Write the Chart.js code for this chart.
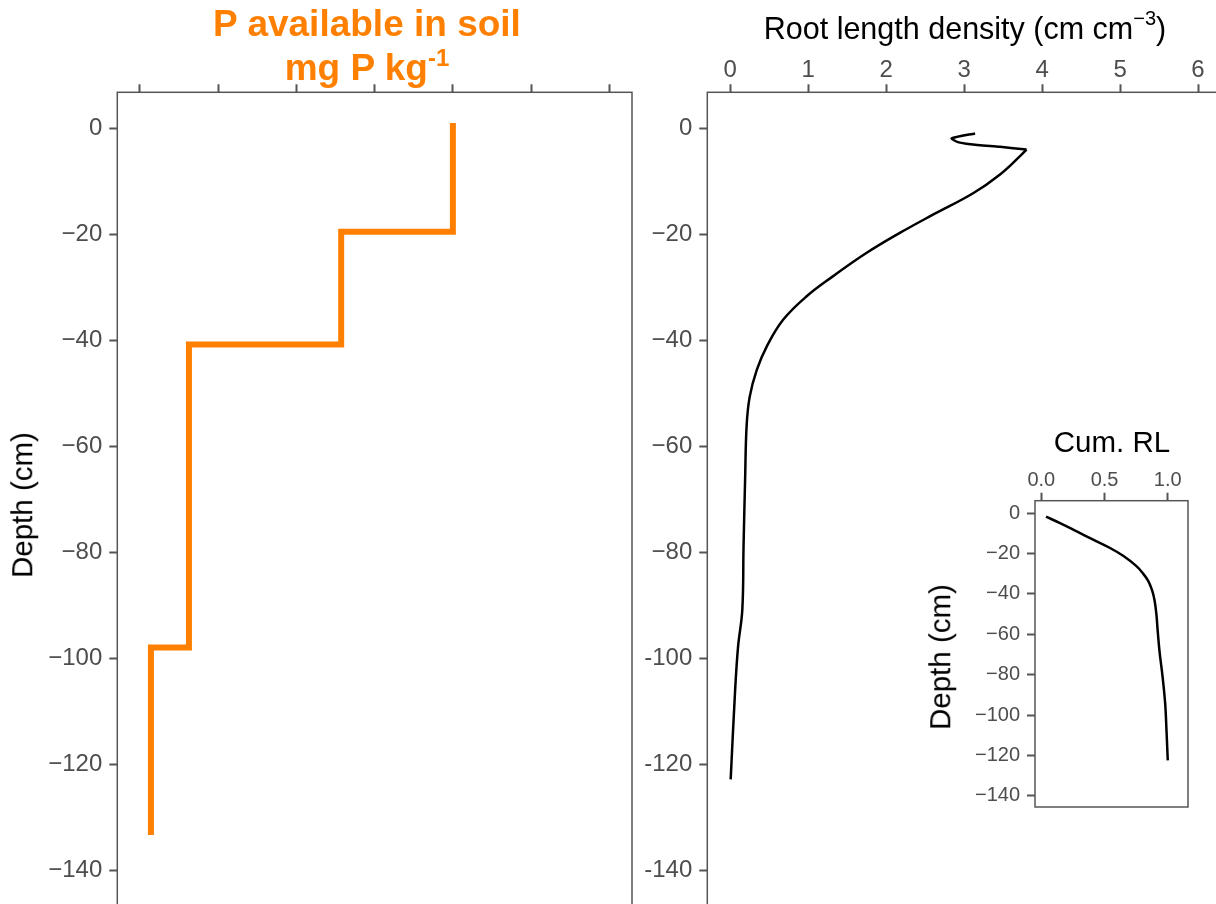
<!DOCTYPE html>
<html>
<head>
<meta charset="utf-8">
<script src="https://cdn.jsdelivr.net/npm/chart.js@4.4.1/dist/chart.umd.min.js"></script>
<style>
  html, body { margin: 0; padding: 0; background: #fff; }
  body { width: 1216px; height: 904px; overflow: hidden; position: relative; font-family: "Liberation Sans", Arial, sans-serif; }
  canvas { position: absolute; }
  .t { position: absolute; white-space: nowrap; line-height: 1; }
  .rot { transform: translate(-50%, -50%) rotate(-90deg); }
</style>
</head>
<body>
<canvas id="pChart" width="640" height="924" style="left:0;top:0"></canvas>
<canvas id="rldChart" width="600" height="924" style="left:640px;top:0"></canvas>
<canvas id="cumChart" width="320" height="410" style="left:900px;top:400px"></canvas>

<div class="t" style="left:167px;top:5px;width:400px;text-align:center;font-weight:bold;font-size:37px;color:#ff8000">P available in soil</div>
<div class="t" style="left:167px;top:49px;width:400px;text-align:center;font-weight:bold;font-size:37px;color:#ff8000">mg P kg<span style="font-size:24px;position:relative;top:-14px">-1</span></div>
<div class="t rot" style="left:22px;top:505px;font-size:29.5px;color:#000">Depth (cm)</div>

<div class="t" style="left:665px;top:13px;width:600px;text-align:center;font-size:30.5px;color:#000">Root length density (cm cm<span style="font-size:20px;position:relative;top:-14px">&minus;3</span>)</div>

<div class="t" style="left:1012px;top:427px;width:200px;text-align:center;font-size:29.5px;color:#000">Cum. RL</div>
<div class="t rot" style="left:940px;top:657px;font-size:29.5px;color:#000">Depth (cm)</div>

<script>
// P available in soil (step profile)
const pAvail = [20, 20, 12.86, 12.86, 3.13, 3.13, 0.70, 0.70];
const pDepth = [1, -19.5, -19.5, -40.8, -40.8, -98, -98, -133.4];
const pTicks = [0, 5, 10, 15, 20, 25, 30];

// root length density: top zig-zag, then the smooth profile
const rldTop = [3.14, 2.84, 2.92, 3.08, 3.46, 3.80];
const rldTopDepth = [-0.96, -1.9, -2.6, -3.0, -3.5, -4.0];
const rld = [3.80, 3.72, 3.46, 3.12, 2.60, 2.18, 1.75, 1.32, 0.98, 0.68, 0.47, 0.34, 0.25,
  0.21, 0.19, 0.17, 0.154, 0.10, 0.06, 0.005];
const rldDepth = [-4.0, -5.2, -8.7, -12.2, -16.3, -19.7, -23.5, -27.9, -31.7, -36.1, -41.1, -45.6, -50.6,
  -56, -66.3, -78.9, -90.9, -97.8, -106.6, -122.9];
const rldTicks = [0, 1, 2, 3, 4, 5, 6];

// cumulative root length (inset)
const cumRL = [0.037, 0.148, 0.28, 0.41, 0.54, 0.65, 0.75, 0.80, 0.845, 0.875, 0.895, 0.91, 0.92, 0.935, 0.96, 0.98, 0.99, 1.0];
const cumDepth = [-1.7, -4.9, -9.0, -13.1, -17.1, -21.2, -26.1, -29.5, -33.5, -38, -43, -50, -58, -68.5, -81.6, -94.7, -107.7, -122.4];
const cumTicks = [0, 0.5, 1];
const cumTickLabels = ['0.0', '0.5', '1.0'];

const depthTicks = [0, -20, -40, -60, -80, -100, -120, -140];
const depthLabels = ['0', '\u221220', '\u221240', '\u221260', '\u221280', '\u2212100', '\u2212120', '\u2212140'];
const depthLabelsRld = ['0', '\u221220', '\u221240', '\u221260', '\u221280', '-100', '-120', '-140'];

const FONT = '"Liberation Sans", Arial, sans-serif';
const GREY = '#4d4d4d';

const boxPlugin = {
  id: 'box',
  afterDraw(chart) {
    const a = chart.chartArea, ctx = chart.ctx;
    ctx.save();
    ctx.strokeStyle = '#555';
    ctx.lineWidth = 1.5;
    ctx.strokeRect(a.left, a.top, a.right - a.left, a.bottom - a.top);
    ctx.restore();
  }
};

function pts(xs, ys) {
  return xs.map((x, i) => ({ x: x, y: ys[i] }));
}

function axes(o) {
  const grid = { display: true, drawOnChartArea: false, drawTicks: true, tickLength: 8, tickColor: '#555', tickWidth: 2 };
  return {
    x: {
      type: 'linear', position: 'top', min: o.xMin, max: o.xMax,
      border: { display: false }, grid: grid,
      afterBuildTicks: s => { s.ticks = o.xTicks.map(v => ({ value: v })); },
      afterFit: s => { s.height = o.xH; s.paddingLeft = 0; s.paddingRight = 0; },
      ticks: {
        autoSkip: false, maxRotation: 0, padding: 0, color: GREY,
        font: { family: FONT, size: o.fs },
        callback: (v, i) => o.xLabels ? o.xLabels[i] : ''
      }
    },
    y: {
      type: 'linear', min: o.yMin, max: o.yMax,
      border: { display: false }, grid: grid,
      afterBuildTicks: s => { s.ticks = depthTicks.map(v => ({ value: v })); },
      afterFit: s => { s.width = o.yW; s.paddingTop = 0; s.paddingBottom = 0; },
      ticks: {
        autoSkip: false, padding: 7, color: GREY,
        font: { family: FONT, size: o.fs },
        callback: (v, i) => o.yLabels[i]
      }
    }
  };
}

const baseOpts = {
  responsive: false,
  animation: false,
  plugins: { legend: { display: false }, tooltip: { enabled: false } }
};

new Chart(document.getElementById('pChart'), {
  type: 'scatter',
  data: { datasets: [{
    data: pts(pAvail, pDepth), showLine: true, borderColor: '#ff8000', borderWidth: 6,
    borderJoinStyle: 'miter', borderCapStyle: 'butt', pointRadius: 0, tension: 0
  }] },
  options: Object.assign({}, baseOpts, {
    layout: { padding: { left: 0, top: 0, right: 8, bottom: 1 } },
    scales: axes({ xMin: -1.45, xMax: 31.45, xTicks: pTicks, xLabels: null,
      yMin: -150, yMax: 6.8, yLabels: depthLabels, yW: 117.3, xH: 92.3, fs: 24 })
  }),
  plugins: [boxPlugin]
});

new Chart(document.getElementById('rldChart'), {
  type: 'scatter',
  data: { datasets: [{
    data: pts(rldTop, rldTopDepth), showLine: true, borderColor: '#000', borderWidth: 2.5,
    pointRadius: 0, tension: 0.2
  }, {
    data: pts(rld, rldDepth), showLine: true, borderColor: '#000', borderWidth: 2.5,
    pointRadius: 0, tension: 0.4
  }] },
  options: Object.assign({}, baseOpts, {
    layout: { padding: { left: 0, top: 0, right: 18.6, bottom: 1 } },
    scales: axes({ xMin: -0.295, xMax: 6.3, xTicks: rldTicks, xLabels: rldTicks.map(String),
      yMin: -150, yMax: 6.8, yLabels: depthLabelsRld, yW: 67.3, xH: 92.3, fs: 24 })
  }),
  plugins: [boxPlugin]
});

new Chart(document.getElementById('cumChart'), {
  type: 'scatter',
  data: { datasets: [{
    data: pts(cumRL, cumDepth), showLine: true, borderColor: '#000', borderWidth: 2.5,
    pointRadius: 0, tension: 0.4
  }] },
  options: Object.assign({}, baseOpts, {
    layout: { padding: { left: 0, top: 0, right: 32, bottom: 3 } },
    scales: axes({ xMin: -0.05, xMax: 1.16, xTicks: cumTicks, xLabels: cumTickLabels,
      yMin: -145.5, yMax: 6.2, yLabels: depthLabels, yW: 135, xH: 100.7, fs: 20 })
  }),
  plugins: [boxPlugin]
});
</script>
</body>
</html>
